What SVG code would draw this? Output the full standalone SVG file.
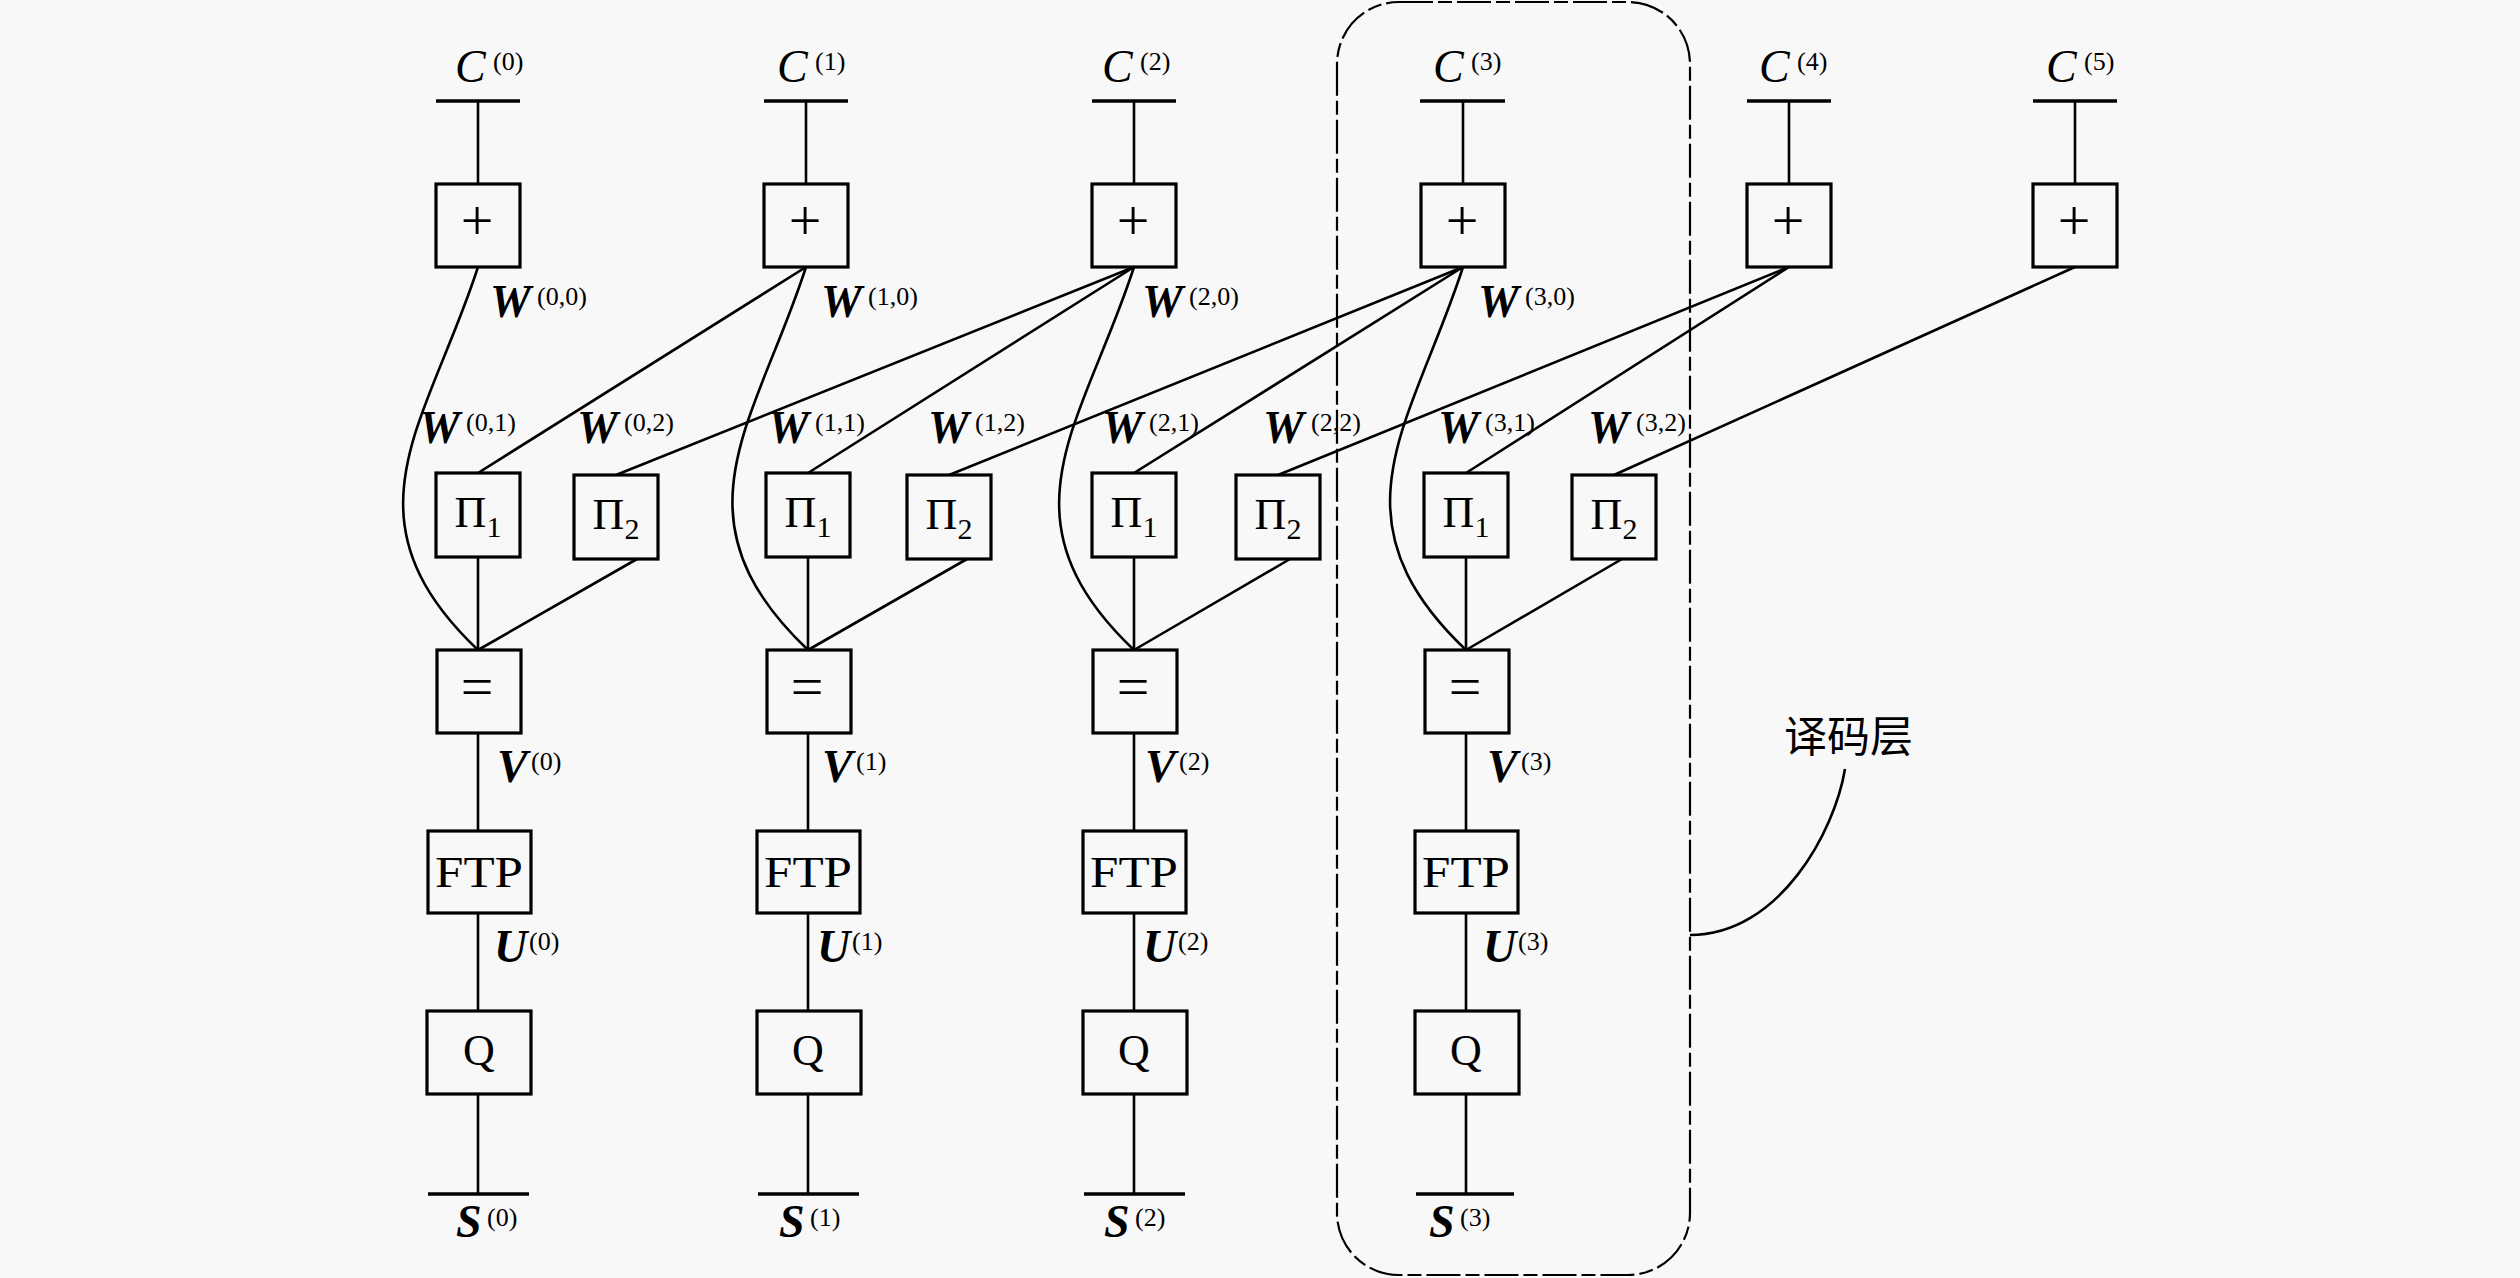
<svg xmlns="http://www.w3.org/2000/svg" width="2520" height="1278" viewBox="0 0 2520 1278">
<style>
.bg{fill:#f8f8f8}
.box{fill:none;stroke:#000;stroke-width:3.2}
.ln{fill:none;stroke:#000;stroke-width:2.6}
.bar{fill:none;stroke:#000;stroke-width:3.6}
.dash{fill:none;stroke:#000;stroke-width:2.2;stroke-dasharray:34 5 14 5}
.c{font-family:"Liberation Serif",serif;font-style:italic;font-size:46px;fill:#000}
.b{font-family:"Liberation Serif",serif;font-style:italic;font-weight:bold;font-size:46px;fill:#000}
.sup{font-style:normal;font-weight:normal;font-size:26px}
.t{font-family:"Liberation Serif",serif;font-size:44px;text-anchor:middle;fill:#000}
.op{font-family:"Liberation Serif",serif;font-size:58px;text-anchor:middle;fill:#000}
.sub{font-size:30px}
.cjk{font-family:"Noto Sans CJK SC",sans-serif;font-size:43px;fill:#000}
</style>
<rect class="bg" x="0" y="0" width="2520" height="1278"/>

<g id="connectors">
  <path class="ln" d="M478 101V184M806 101V184M1134 101V184M1463 101V184M1789 101V184M2075 101V184"/>
  <path class="ln" d="M806 267L478 473M1134 267L808 473M1463 267L1134 473M1789 267L1466 473"/>
  <path class="ln" d="M1134 267L616 475M1463 267L949 475M1789 267L1278 475M2075 267L1614 475"/>
  <path class="ln" d="M478 267C428 422 338 517 478 650"/>
  <path class="ln" d="M806 267C756 422 668 517 808 650"/>
  <path class="ln" d="M1134 267C1084 422 994 517 1134 650"/>
  <path class="ln" d="M1463 267C1413 422 1326 517 1466 650"/>
  <path class="ln" d="M478 557V650M808 557V650M1134 557V650M1466 557V650"/>
  <path class="ln" d="M637 559L478 650M967 559L808 650M1290 559L1134 650M1622 559L1466 650"/>
  <path class="ln" d="M478 733V831M478 913V1011M478 1094V1194"/>
  <path class="ln" d="M808 733V831M808 913V1011M808 1094V1194"/>
  <path class="ln" d="M1134 733V831M1134 913V1011M1134 1094V1194"/>
  <path class="ln" d="M1466 733V831M1466 913V1011M1466 1094V1194"/>
  <path class="ln" d="M1845 769C1835 830 1780 935 1690 935"/>
</g>

<g id="layer-box">
  <rect class="dash" x="1337" y="2" width="353" height="1273" rx="62" ry="62"/>
  <text class="cjk" x="1784" y="752">译码层</text>
</g>

<g id="C0"><path class="bar" d="M436 101H520"/><text class="c" x="455" y="82">C<tspan class="sup" x="493" dy="-12">(0)</tspan></text></g>
<g id="C1"><path class="bar" d="M764 101H848"/><text class="c" x="777" y="82">C<tspan class="sup" x="815" dy="-12">(1)</tspan></text></g>
<g id="C2"><path class="bar" d="M1092 101H1176"/><text class="c" x="1102" y="82">C<tspan class="sup" x="1140" dy="-12">(2)</tspan></text></g>
<g id="C3"><path class="bar" d="M1420 101H1505"/><text class="c" x="1433" y="82">C<tspan class="sup" x="1471" dy="-12">(3)</tspan></text></g>
<g id="C4"><path class="bar" d="M1747 101H1831"/><text class="c" x="1759" y="82">C<tspan class="sup" x="1797" dy="-12">(4)</tspan></text></g>
<g id="C5"><path class="bar" d="M2033 101H2117"/><text class="c" x="2046" y="82">C<tspan class="sup" x="2084" dy="-12">(5)</tspan></text></g>

<g id="plus0"><rect class="box" x="436" y="184" width="84" height="83"/><text class="op" x="477" y="240">+</text></g>
<g id="plus1"><rect class="box" x="764" y="184" width="84" height="83"/><text class="op" x="805" y="240">+</text></g>
<g id="plus2"><rect class="box" x="1092" y="184" width="84" height="83"/><text class="op" x="1133" y="240">+</text></g>
<g id="plus3"><rect class="box" x="1421" y="184" width="84" height="83"/><text class="op" x="1462" y="240">+</text></g>
<g id="plus4"><rect class="box" x="1747" y="184" width="84" height="83"/><text class="op" x="1788" y="240">+</text></g>
<g id="plus5"><rect class="box" x="2033" y="184" width="84" height="83"/><text class="op" x="2074" y="240">+</text></g>

<g id="pi1_0"><rect class="box" x="436" y="473" width="84" height="84"/><text class="t" x="478" y="527">Π<tspan class="sub" dy="10">1</tspan></text></g>
<g id="pi1_1"><rect class="box" x="766" y="473" width="84" height="84"/><text class="t" x="808" y="527">Π<tspan class="sub" dy="10">1</tspan></text></g>
<g id="pi1_2"><rect class="box" x="1092" y="473" width="84" height="84"/><text class="t" x="1134" y="527">Π<tspan class="sub" dy="10">1</tspan></text></g>
<g id="pi1_3"><rect class="box" x="1424" y="473" width="84" height="84"/><text class="t" x="1466" y="527">Π<tspan class="sub" dy="10">1</tspan></text></g>

<g id="pi2_0"><rect class="box" x="574" y="475" width="84" height="84"/><text class="t" x="616" y="529">Π<tspan class="sub" dy="10">2</tspan></text></g>
<g id="pi2_1"><rect class="box" x="907" y="475" width="84" height="84"/><text class="t" x="949" y="529">Π<tspan class="sub" dy="10">2</tspan></text></g>
<g id="pi2_2"><rect class="box" x="1236" y="475" width="84" height="84"/><text class="t" x="1278" y="529">Π<tspan class="sub" dy="10">2</tspan></text></g>
<g id="pi2_3"><rect class="box" x="1572" y="475" width="84" height="84"/><text class="t" x="1614" y="529">Π<tspan class="sub" dy="10">2</tspan></text></g>

<g id="eq0"><rect class="box" x="437" y="650" width="84" height="83"/><text class="op" x="477" y="706">=</text></g>
<g id="eq1"><rect class="box" x="767" y="650" width="84" height="83"/><text class="op" x="807" y="706">=</text></g>
<g id="eq2"><rect class="box" x="1093" y="650" width="84" height="83"/><text class="op" x="1133" y="706">=</text></g>
<g id="eq3"><rect class="box" x="1425" y="650" width="84" height="83"/><text class="op" x="1465" y="706">=</text></g>

<g id="ftp0"><rect class="box" x="428" y="831" width="103" height="82"/><text class="t" x="479" y="887" textLength="88" lengthAdjust="spacingAndGlyphs">FTP</text></g>
<g id="ftp1"><rect class="box" x="757" y="831" width="103" height="82"/><text class="t" x="808" y="887" textLength="88" lengthAdjust="spacingAndGlyphs">FTP</text></g>
<g id="ftp2"><rect class="box" x="1083" y="831" width="103" height="82"/><text class="t" x="1134" y="887" textLength="88" lengthAdjust="spacingAndGlyphs">FTP</text></g>
<g id="ftp3"><rect class="box" x="1415" y="831" width="103" height="82"/><text class="t" x="1466" y="887" textLength="88" lengthAdjust="spacingAndGlyphs">FTP</text></g>

<g id="q0"><rect class="box" x="427" y="1011" width="104" height="83"/><text class="t" x="479" y="1065">Q</text></g>
<g id="q1"><rect class="box" x="757" y="1011" width="104" height="83"/><text class="t" x="808" y="1065">Q</text></g>
<g id="q2"><rect class="box" x="1083" y="1011" width="104" height="83"/><text class="t" x="1134" y="1065">Q</text></g>
<g id="q3"><rect class="box" x="1415" y="1011" width="104" height="83"/><text class="t" x="1466" y="1065">Q</text></g>

<g id="S0"><path class="bar" d="M428 1194H529"/><text class="b" x="456" y="1237">S<tspan class="sup" x="487" dy="-11">(0)</tspan></text></g>
<g id="S1"><path class="bar" d="M758 1194H859"/><text class="b" x="779" y="1237">S<tspan class="sup" x="810" dy="-11">(1)</tspan></text></g>
<g id="S2"><path class="bar" d="M1084 1194H1185"/><text class="b" x="1104" y="1237">S<tspan class="sup" x="1135" dy="-11">(2)</tspan></text></g>
<g id="S3"><path class="bar" d="M1416 1194H1514"/><text class="b" x="1429" y="1237">S<tspan class="sup" x="1460" dy="-11">(3)</tspan></text></g>

<g id="labels">
  <text class="b" x="490" y="317">W<tspan class="sup" x="537" dy="-12">(0,0)</tspan></text>
  <text class="b" x="821" y="317">W<tspan class="sup" x="868" dy="-12">(1,0)</tspan></text>
  <text class="b" x="1142" y="317">W<tspan class="sup" x="1189" dy="-12">(2,0)</tspan></text>
  <text class="b" x="1478" y="317">W<tspan class="sup" x="1525" dy="-12">(3,0)</tspan></text>

  <text class="b" x="419" y="443">W<tspan class="sup" x="466" dy="-12">(0,1)</tspan></text>
  <text class="b" x="577" y="443">W<tspan class="sup" x="624" dy="-12">(0,2)</tspan></text>
  <text class="b" x="768" y="443">W<tspan class="sup" x="815" dy="-12">(1,1)</tspan></text>
  <text class="b" x="928" y="443">W<tspan class="sup" x="975" dy="-12">(1,2)</tspan></text>
  <text class="b" x="1102" y="443">W<tspan class="sup" x="1149" dy="-12">(2,1)</tspan></text>
  <text class="b" x="1263" y="443">W<tspan class="sup" x="1311" dy="-12">(2,2)</tspan></text>
  <text class="b" x="1438" y="443">W<tspan class="sup" x="1485" dy="-12">(3,1)</tspan></text>
  <text class="b" x="1588" y="443">W<tspan class="sup" x="1636" dy="-12">(3,2)</tspan></text>

  <text class="b" x="497" y="782">V<tspan class="sup" x="531" dy="-12">(0)</tspan></text>
  <text class="b" x="822" y="782">V<tspan class="sup" x="856" dy="-12">(1)</tspan></text>
  <text class="b" x="1145" y="782">V<tspan class="sup" x="1179" dy="-12">(2)</tspan></text>
  <text class="b" x="1487" y="782">V<tspan class="sup" x="1521" dy="-12">(3)</tspan></text>

  <text class="b" x="494" y="962">U<tspan class="sup" x="529" dy="-12">(0)</tspan></text>
  <text class="b" x="817" y="962">U<tspan class="sup" x="852" dy="-12">(1)</tspan></text>
  <text class="b" x="1143" y="962">U<tspan class="sup" x="1178" dy="-12">(2)</tspan></text>
  <text class="b" x="1483" y="962">U<tspan class="sup" x="1518" dy="-12">(3)</tspan></text>
</g>
</svg>
